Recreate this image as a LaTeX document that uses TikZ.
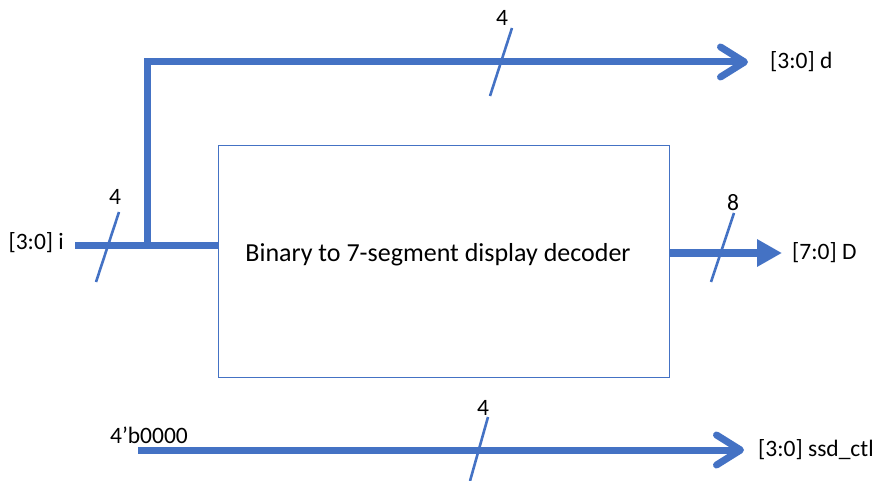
\documentclass[tikz,border=0pt]{standalone}
\usepackage{fontspec}
\setmainfont{Carlito}
\usetikzlibrary{arrows.meta}
\definecolor{obl}{HTML}{4472C4}
\begin{document}
\begin{tikzpicture}[x=1pt,y=-1pt,
  bus/.style={draw=obl, line width=7pt},
  slash/.style={draw=obl, line width=2.6pt},
  lbl/.style={font=\fontsize{23.5}{27}\selectfont, inner sep=0pt, text=black},
  chev/.style={-{Straight Barb[length=24pt, width=30pt, round]}},
  tri/.style={-{Triangle[length=25pt, width=26pt]}}]
\useasboundingbox (0,0) rectangle (885,481);
% block
\node[draw=obl, line width=0.9pt, minimum width=451pt, minimum height=232pt, inner sep=0pt] (dec) at (443.5,261) {};
\node[lbl, font=\fontsize{26}{30}\selectfont] (dect) at (438,255) {Binary to 7-segment display decoder};
% input bus
\coordinate (iin) at (75,245);
\coordinate (j) at (147,245);
\coordinate (c) at (147,62);
\coordinate (dout) at (748,62);
\coordinate (iend) at (218,245);
\draw[bus] (iin) -- (iend);
\draw[bus, line join=miter] (j) -- (c) -- (143.5,62);
\draw[bus, chev] (c) -- (dout);
\node[lbl, anchor=east] (il) at (64,243) {[3:0] i};
\node[lbl, anchor=west] (dl) at (770,62) {[3:0] d};
% slashes
\coordinate (s1a) at (119,212); \coordinate (s1b) at (96,282);
\draw[slash] (s1a) -- (s1b);
\node[lbl] (n1) at (115,197) {4};
\coordinate (s2a) at (512,28); \coordinate (s2b) at (490,96);
\draw[slash] (s2a) -- (s2b);
\node[lbl] (n2) at (502,18) {4};
% output D
\coordinate (oout) at (669,253);
\coordinate (otip) at (782,253);
\draw[bus, line width=8pt, tri] (oout) -- (otip);
\coordinate (s3a) at (734,213); \coordinate (s3b) at (711,282);
\draw[slash] (s3a) -- (s3b);
\node[lbl] (n3) at (733,203) {8};
\node[lbl, anchor=west] (Dl) at (792,253) {[7:0] D};
% bottom bus
\coordinate (bin) at (138,450);
\coordinate (bout) at (744,450);
\draw[bus, chev] (bin) -- (bout);
\node[lbl] (bl) at (149,435) {4’b0000};
\coordinate (s4a) at (488,417); \coordinate (s4b) at (470,481);
\draw[slash] (s4a) -- (s4b);
\node[lbl] (n4) at (483,408) {4};
\node[lbl, anchor=west] (sl) at (758,450) {[3:0] ssd\_ctl};
\end{tikzpicture}
\end{document}
